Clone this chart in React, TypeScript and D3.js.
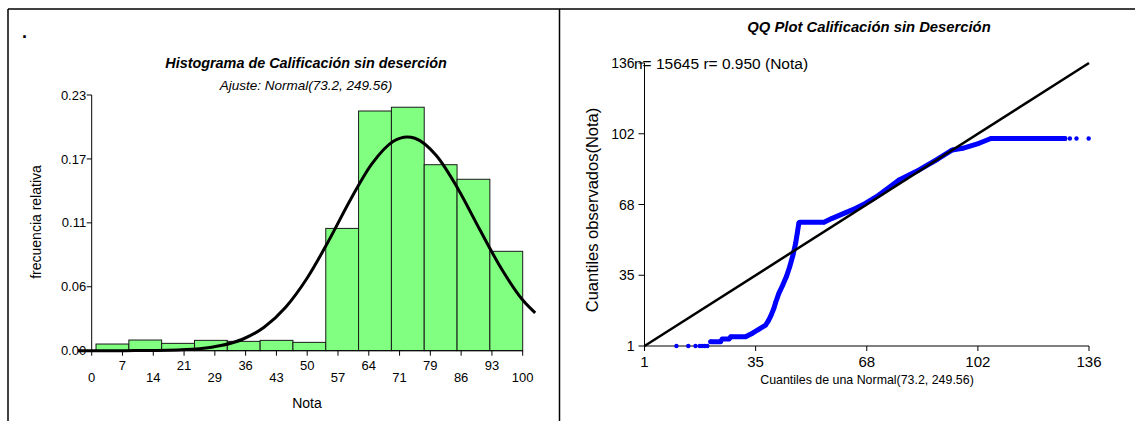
import { useEffect, useRef } from 'react';
import * as d3 from 'd3';

// --- histograma ---
const binEdges = [1, 8.62, 16.23, 23.85, 31.46, 39.08, 46.69, 54.31, 61.92, 69.54, 77.15, 84.77, 92.38, 100];
const relFreq = [0.006, 0.0096, 0.0066, 0.0093, 0.0084, 0.0093, 0.0075, 0.11, 0.2156, 0.219, 0.1673, 0.1542, 0.0894];

const histTickValues = [0, 7.14, 14.29, 21.43, 28.57, 35.71, 42.86, 50, 57.14, 64.29, 71.43, 78.57, 85.71, 92.86, 100];
const histTickLabels = ['0', '7', '14', '21', '29', '36', '43', '50', '57', '64', '71', '79', '86', '93', '100'];
const freqTickValues = [0, 0.0575, 0.115, 0.1725, 0.23];
const freqTickLabels = ['0.00', '0.06', '0.11', '0.17', '0.23'];

// curva ajustada Normal(73.2, 249.56)
const fitX = [-3.2, 0, 5, 10, 15, 20, 25, 30, 35, 40, 45, 50, 55, 60, 65, 70, 73.2, 75, 80, 85, 90, 95, 100, 102.9];
const fitY = [0, 0, 0, 0.0001, 0.0002, 0.0007, 0.0018, 0.0046, 0.0103, 0.0211, 0.0391, 0.0654, 0.099, 0.1356, 0.168, 0.1884, 0.1923, 0.1911, 0.1753, 0.1455, 0.1092, 0.0742, 0.0456, 0.034];

// --- QQ plot ---
const qqTickValues = [1, 34.75, 68.5, 102.25, 136];
const qqTickLabels = ['1', '35', '68', '102', '136'];

const qqLowX = [10.7, 14.3, 16.5, 17.8, 18.5, 19.3, 20.1];
const qqLowY = [1, 1, 1, 1, 1, 1, 1];
const qqDenseX = [21.1, 24.1, 24.6, 26.7, 27.2, 31.7, 33.8, 35.8, 37.8, 38.6, 39.4, 40.3, 40.9, 41.8, 43.0, 44.1, 45.1, 46.1, 46.9, 47.4, 47.9, 48.2, 55.5, 58.0, 62.1, 65.2, 68.2, 72.2, 78.3, 84.4, 90.0, 94.5, 97.6, 102.6, 106.2, 128.7];
const qqDenseY = [3.0, 3.0, 4.3, 4.3, 5.4, 5.4, 7.1, 9.0, 11.0, 13.0, 15.5, 19.0, 22.1, 26.1, 30.1, 34.1, 38.8, 44.4, 50.0, 54.8, 59.8, 60, 60, 61.9, 64.6, 66.7, 69.1, 73.0, 80.2, 85.0, 90.1, 94.5, 95.3, 97.7, 100, 100];
const qqHighX = [130.2, 132.2, 135.9];
const qqHighY = [100, 100, 100];

const FONT = '"Liberation Sans", Arial, sans-serif';

export default function App() {
  const svgRef = useRef<SVGSVGElement>(null);

  useEffect(() => {
    if (!svgRef.current) return;
    const svg = d3.select(svgRef.current);
    svg.selectAll('*').remove();

    // marco
    const frame = svg.append('g').attr('stroke', '#000').attr('stroke-width', 1.5);
    frame.append('line').attr('x1', 8).attr('y1', 9).attr('x2', 1135).attr('y2', 9);
    frame.append('line').attr('x1', 8).attr('y1', 9).attr('x2', 8).attr('y2', 421);
    frame.append('line').attr('x1', 559.5).attr('y1', 9).attr('x2', 559.5).attr('y2', 421);

    svg.append('text').attr('x', 22).attr('y', 38).attr('font-size', 18).attr('font-weight', 'bold')
      .attr('font-family', FONT).text('.');

    // ===== histograma =====
    const x = d3.scaleLinear().domain([0, 100]).range([91.7, 522.7]);
    const y = d3.scaleLinear().domain([0, 0.23]).range([350.7, 95]);
    const h = svg.append('g').attr('font-family', FONT);

    h.append('text').attr('x', 306).attr('y', 68).attr('text-anchor', 'middle')
      .attr('font-size', 14.4).attr('font-weight', 'bold').attr('font-style', 'italic')
      .text('Histograma de Calificación sin deserción');
    h.append('text').attr('x', 306).attr('y', 90).attr('text-anchor', 'middle')
      .attr('font-size', 13.5).attr('font-style', 'italic')
      .text('Ajuste: Normal(73.2, 249.56)');

    h.selectAll('rect.bar')
      .data(relFreq)
      .enter()
      .append('rect')
      .attr('class', 'bar')
      .attr('x', (_, i) => x(binEdges[i]))
      .attr('width', (_, i) => x(binEdges[i + 1]) - x(binEdges[i]))
      .attr('y', (d) => y(d))
      .attr('height', (d) => y(0) - y(d))
      .attr('fill', '#80ff80')
      .attr('stroke', '#1a1a1a')
      .attr('stroke-width', 1);

    // ejes
    h.append('line').attr('x1', x(0)).attr('x2', x(0)).attr('y1', y(0.23)).attr('y2', y(0))
      .attr('stroke', '#000');
    h.append('line').attr('x1', x(0)).attr('x2', x(100)).attr('y1', y(0)).attr('y2', y(0))
      .attr('stroke', '#000');

    freqTickValues.forEach((v, i) => {
      h.append('line').attr('x1', x(0) - 5).attr('x2', x(0)).attr('y1', y(v)).attr('y2', y(v)).attr('stroke', '#000');
      h.append('text').attr('x', x(0) - 5.5).attr('y', y(v) + 4.6).attr('text-anchor', 'end')
        .attr('font-size', 13).text(freqTickLabels[i]);
    });

    histTickValues.forEach((v, i) => {
      h.append('line').attr('x1', x(v)).attr('x2', x(v)).attr('y1', y(0)).attr('y2', y(0) + 5).attr('stroke', '#000');
      h.append('text').attr('x', x(v)).attr('y', i % 2 === 1 ? 370 : 381.5).attr('text-anchor', 'middle')
        .attr('font-size', 13).text(histTickLabels[i]);
    });

    const fitLine = d3
      .line<number>()
      .x((_, i) => x(fitX[i]))
      .y((d) => y(d))
      .curve(d3.curveMonotoneX);
    h.append('path').attr('d', fitLine(fitY)).attr('fill', 'none').attr('stroke', '#000').attr('stroke-width', 3);

    h.append('text').attr('x', 307).attr('y', 408).attr('text-anchor', 'middle').attr('font-size', 14).text('Nota');
    h.append('text').attr('transform', 'translate(41,222) rotate(-90)').attr('text-anchor', 'middle')
      .attr('font-size', 14).text('frecuencia relativa');

    // ===== QQ plot =====
    const qx = d3.scaleLinear().domain([1, 136]).range([644.5, 1089]);
    const qy = d3.scaleLinear().domain([1, 136]).range([346, 63]);
    const q = svg.append('g').attr('font-family', FONT);

    q.append('text').attr('x', 869).attr('y', 32).attr('text-anchor', 'middle')
      .attr('font-size', 14.8).attr('font-weight', 'bold').attr('font-style', 'italic')
      .text('QQ Plot Calificación sin Deserción');

    q.append('line').attr('x1', qx(1)).attr('x2', qx(1)).attr('y1', qy(136)).attr('y2', qy(1)).attr('stroke', '#000');
    q.append('line').attr('x1', qx(1)).attr('x2', qx(136)).attr('y1', qy(1)).attr('y2', qy(1)).attr('stroke', '#000');

    qqTickValues.forEach((v, i) => {
      q.append('line').attr('x1', qx(1) - 6).attr('x2', qx(1)).attr('y1', qy(v)).attr('y2', qy(v)).attr('stroke', '#000');
      q.append('text').attr('x', qx(1) - 10).attr('y', qy(v) + 5).attr('text-anchor', 'end')
        .attr('font-size', 14).text(qqTickLabels[i]);
      q.append('line').attr('x1', qx(v)).attr('x2', qx(v)).attr('y1', qy(1)).attr('y2', qy(1) + 5).attr('stroke', '#000');
      q.append('text').attr('x', qx(v)).attr('y', 367).attr('text-anchor', 'middle')
        .attr('font-size', 15).text(qqTickLabels[i]);
    });

    q.append('text').attr('x', 634).attr('y', 69).attr('font-size', 15.5).text('n= 15645 r= 0.950 (Nota)');

    const dense = d3
      .line<number>()
      .x((_, i) => qx(qqDenseX[i]))
      .y((d) => qy(d));
    q.append('path').attr('d', dense(qqDenseY)).attr('fill', 'none').attr('stroke', '#0000ff')
      .attr('stroke-width', 5).attr('stroke-linejoin', 'round').attr('stroke-linecap', 'round');

    const pts = [
      ...qqLowX.map((v, i) => [v, qqLowY[i]]),
      ...qqDenseX.map((v, i) => [v, qqDenseY[i]]),
      ...qqHighX.map((v, i) => [v, qqHighY[i]]),
    ];
    q.selectAll('circle.pt')
      .data(pts)
      .enter()
      .append('circle')
      .attr('class', 'pt')
      .attr('cx', (d) => qx(d[0]))
      .attr('cy', (d) => qy(d[1]))
      .attr('r', 2.2)
      .attr('fill', '#0000ff');

    // linea de referencia
    q.append('line').attr('x1', qx(1)).attr('y1', qy(1)).attr('x2', qx(136)).attr('y2', qy(136))
      .attr('stroke', '#000').attr('stroke-width', 2.5);

    q.append('text').attr('x', 867).attr('y', 384).attr('text-anchor', 'middle').attr('font-size', 12.4)
      .text('Cuantiles de una Normal(73.2, 249.56)');
    q.append('text').attr('transform', 'translate(598,210) rotate(-90)').attr('text-anchor', 'middle')
      .attr('font-size', 16.5).text('Cuantiles observados(Nota)');
  }, []);

  return (
    <svg
      ref={svgRef}
      width={1135}
      height={421}
      style={{ position: 'absolute', left: 0, top: 0, background: '#fff' }}
    />
  );
}
